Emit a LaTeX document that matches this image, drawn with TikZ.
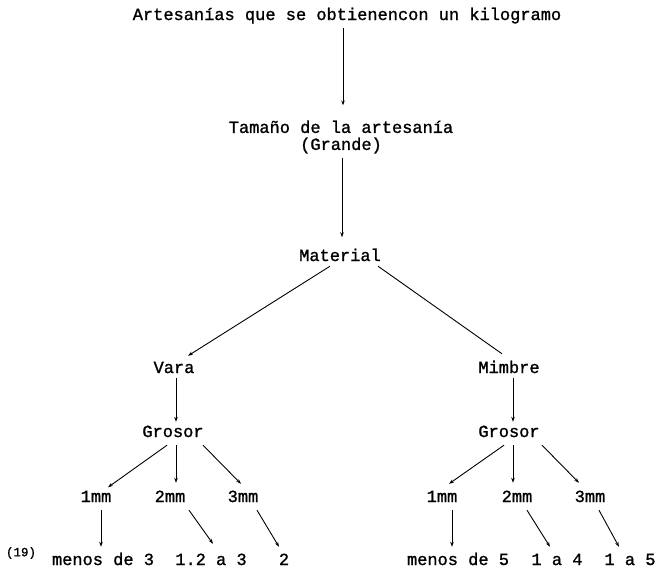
\documentclass[tikz,border=0pt]{standalone}
\usepackage{fontspec}
\usepackage{tikz}
\usetikzlibrary{arrows.meta,calc,positioning}
\newfontfamily\tfont[FakeBold=1.2]{Liberation Mono}
\tikzset{
  txt/.style={inner sep=2pt, align=center, font=\tfont\fontsize{17}{17}\selectfont},
  lbl/.style={txt, text height=12pt, text depth=2pt},
  arr/.style={-{Stealth[length=5pt,width=3.5pt]}, line width=0.9pt},   % arrow with head
  ln/.style={line width=0.9pt},                                         % plain line
}
\begin{document}
\begin{tikzpicture}[x=1pt,y=-1pt]
  \useasboundingbox (0,0) rectangle (660,568);
  % top chain
  \node[lbl] (titulo) at (347,15) {Artesanías que se obtienencon un kilogramo};
  \node[txt] (tamano) at (341,137) {Tamaño de la artesanía\\(Grande)};
  \node[lbl] (material) at (340,256) {Material};
  \node[lbl] (vara) at (174,368) {Vara};
  \node[lbl] (mimbre) at (509,368) {Mimbre};
  \node[lbl] (grosorL) at (173,432) {Grosor};
  \node[lbl] (grosorR) at (509,432) {Grosor};

  % grosor levels
  \node[lbl] (l1) at (96,497) {1mm};
  \node[lbl] (l2) at (170,497) {2mm};
  \node[lbl] (l3) at (243,497) {3mm};
  \node[lbl] (r1) at (442,497) {1mm};
  \node[lbl] (r2) at (517,497) {2mm};
  \node[lbl] (r3) at (590,497) {3mm};

  % results
  \node[lbl] (bl1) at (103,560) {menos de 3};
  \node[lbl] (bl2) at (211,560) {1.2 a 3};
  \node[lbl] (bl3) at (284,560) {2};
  \node[lbl] (br1) at (458,560) {menos de 5};
  \node[lbl] (br2) at (557,560) {1 a 4};
  \node[lbl] (br3) at (630,560) {1 a 5};
  \node[inner sep=0pt, font=\tfont\fontsize{12.5}{12.5}\selectfont] (nota) at (21,553) {(19)};

  \draw[arr] ([xshift=-4pt,yshift=-3.5pt]titulo.south) -- ([xshift=2pt,yshift=13pt]tamano.north);
  \draw[arr] ([xshift=1pt,yshift=-2pt]tamano.south) -- ([xshift=2pt,yshift=9.5pt]material.north);
  \draw[arr] ([xshift=-10pt,yshift=-1pt]material.south) -- ([xshift=14pt,yshift=3pt]vara.north);
  \draw[ln] ([xshift=-5pt,yshift=-1pt]material.south east) -- ([xshift=-7pt,yshift=5pt]mimbre.north);
  \draw[arr] ([xshift=2pt,yshift=-1pt]vara.south) -- ([xshift=3pt,yshift=1pt]grosorL.north);
  \draw[arr] ([xshift=4pt,yshift=-1pt]mimbre.south) -- ([xshift=4pt,yshift=1pt]grosorR.north);

  \draw[arr] ([xshift=-6pt,yshift=-4pt]grosorL.south) -- ([xshift=12pt,yshift=0.5pt]l1.north);
  \draw[arr] ([xshift=3pt,yshift=-4pt]grosorL.south) -- ([xshift=6pt,yshift=5pt]l2.north);
  \draw[arr] ([xshift=30pt,yshift=-4pt]grosorL.south) -- ([xshift=-2pt,yshift=4pt]l3.north);
  \draw[arr] ([xshift=-5pt,yshift=-4pt]grosorR.south) -- ([xshift=7pt,yshift=4pt]r1.north);
  \draw[arr] ([xshift=4pt,yshift=-4pt]grosorR.south) -- ([xshift=-4pt,yshift=5pt]r2.north);
  \draw[arr] ([xshift=33pt,yshift=-4pt]grosorR.south) -- ([xshift=-11pt,yshift=5pt]r3.north);

  \draw[arr] ([xshift=5pt,yshift=-4pt]l1.south) -- ([xshift=-2pt,yshift=4pt]bl1.north);
  \draw[arr] ([xshift=19pt,yshift=-4pt]l2.south) -- ([xshift=2pt,yshift=7pt]bl2.north);
  \draw[arr] ([xshift=14pt,yshift=-4pt]l3.south) -- ([xshift=-5pt,yshift=4pt]bl3.north);
  \draw[arr] ([xshift=10pt,yshift=-4pt]r1.south) -- ([xshift=-6pt,yshift=4pt]br1.north);
  \draw[arr] ([xshift=10pt,yshift=-4pt]r2.south) -- ([xshift=-7pt,yshift=4pt]br2.north);
  \draw[arr] ([xshift=9pt,yshift=-4pt]r3.south) -- ([xshift=-11pt,yshift=4pt]br3.north);
\end{tikzpicture}
\end{document}
